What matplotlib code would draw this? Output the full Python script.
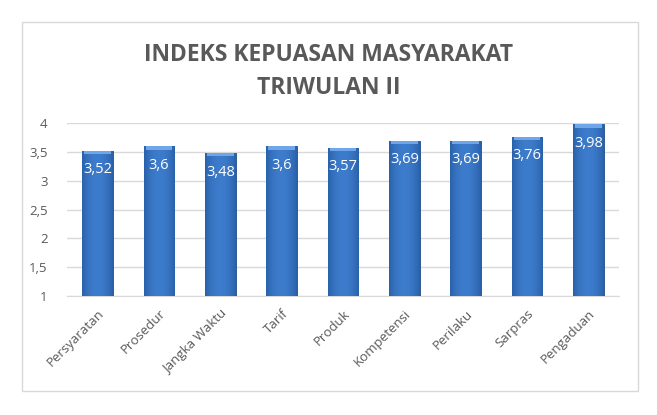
import matplotlib
matplotlib.use("Agg")
import matplotlib.pyplot as plt
import numpy as np
from matplotlib.patches import Rectangle

categories = ["Persyaratan", "Prosedur", "Jangka Waktu", "Tarif", "Produk",
              "Kompetensi", "Perilaku", "Sarpras", "Pengaduan"]
values = [3.52, 3.6, 3.48, 3.6, 3.57, 3.69, 3.69, 3.76, 3.98]
yticks = [1, 1.5, 2, 2.5, 3, 3.5, 4]

plt.rcParams['font.family'] = ['Open Sans', 'DejaVu Sans']
gray = "#595959"

fig = plt.figure(figsize=(6.57, 4.15), dpi=100)
# chart frame
fig.patches.append(Rectangle((22 / 657, 1 - 391 / 415), (638 - 22) / 657, (391 - 22) / 415,
                             transform=fig.transFigure, fill=False,
                             edgecolor="#d9d9d9", linewidth=1))
ax = fig.add_axes([67 / 657, 1 - 296 / 415, (619 - 67) / 657, (296 - 123) / 415])

x = np.arange(len(categories))
w = 0.5
bars = ax.bar(x, [v - 1 for v in values], bottom=1, width=w, color="#2f69b5",
              edgecolor="#1f4e8c", linewidth=0.6, zorder=3)

# horizontal shading for a rounded look
grad = np.linspace(0, 1, 64)
shade = 1 - 0.6 * (np.abs(grad - 0.5) * 2) ** 2
cmap = matplotlib.colors.LinearSegmentedColormap.from_list("b", ["#1d4f93", "#3d7ccc"])
for b in bars:
    x0, y0 = b.get_x(), b.get_y()
    bw, bh = b.get_width(), b.get_height()
    im = ax.imshow(shade[None, :], cmap=cmap, vmin=0, vmax=1, aspect="auto",
                   extent=[x0, x0 + bw, y0, y0 + bh], zorder=4)
    im.set_clip_path(b)
    # lighter top cap
    ax.add_patch(Rectangle((x0 + bw * 0.06, y0 + bh - 0.06), bw * 0.88, 0.055,
                           color="#6fa6ea", zorder=5, linewidth=0))

for xi, v in zip(x, values):
    ax.text(xi, v - 0.33, f"{v:g}".replace(".", ","), ha="center", va="center",
            color="white", fontsize=10.5, zorder=6)

ax.set_xlim(-0.5, len(categories) - 0.5)
ax.set_ylim(1, 4)
ax.set_yticks(yticks)
ax.set_yticklabels([f"{t:g}".replace(".", ",") for t in yticks], color=gray, fontsize=9.5)
ax.set_xticks(x)
ax.set_xticklabels(categories, rotation=45, ha="right", rotation_mode="anchor",
                   color=gray, fontsize=9.5)
ax.tick_params(axis="y", length=0, pad=14)
ax.tick_params(axis="x", length=0, pad=8)
ax.grid(axis="y", color="#d9d9d9", linewidth=1, zorder=0)
ax.set_axisbelow(True)
for s in ax.spines.values():
    s.set_visible(False)
ax.spines["bottom"].set_visible(True)
ax.spines["bottom"].set_color("#d9d9d9")

fig.text(0.5, 1 - 55 / 415, "INDEKS KEPUASAN MASYARAKAT", ha="center", va="center",
         fontsize=16.5, fontweight="bold", color=gray)
fig.text(0.5, 1 - 88 / 415, "TRIWULAN II", ha="center", va="center",
         fontsize=16.5, fontweight="bold", color=gray)

fig.savefig("out.png", dpi=100)
